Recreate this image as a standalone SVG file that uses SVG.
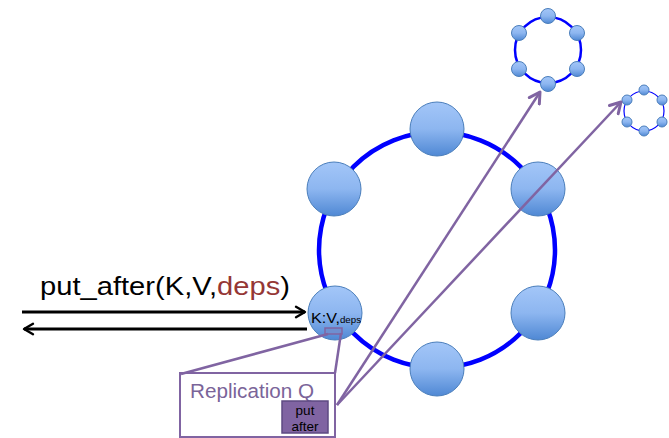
<svg xmlns="http://www.w3.org/2000/svg" width="669" height="438" viewBox="0 0 669 438">
<defs>
<linearGradient id="ng" x1="0" y1="0" x2="0" y2="1">
<stop offset="0" stop-color="#A3C6F8"/>
<stop offset="0.5" stop-color="#8DB6F0"/>
<stop offset="1" stop-color="#4F88D4"/>
</linearGradient>
<marker id="pa" viewBox="0 0 10 10" refX="8" refY="5" markerWidth="6" markerHeight="6" orient="auto" markerUnits="strokeWidth">
<path d="M1,1 L8,5 L1,9" fill="none" stroke="#8064A2" stroke-width="2" stroke-linecap="round" stroke-linejoin="round"/>
</marker>
<marker id="ba" viewBox="0 0 10 10" refX="8" refY="5" markerWidth="5" markerHeight="5" orient="auto" markerUnits="strokeWidth">
<path d="M2,1.5 L8,5 L2,8.5" fill="none" stroke="#000" stroke-width="1.6" stroke-linecap="round" stroke-linejoin="round"/>
</marker>
</defs>
<style>
.node{fill:url(#ng);stroke:#4A7EBB;stroke-width:1}
.ring{fill:none;stroke:#0000FF}
.pl{fill:none;stroke:#8064A2;stroke-width:2.5}
.t{font-family:"Liberation Sans",Arial,sans-serif}
</style>
<g id="big-ring">
<circle class="ring" cx="437" cy="250" r="118" stroke-width="4.5"/>
</g>
<g id="node-top"><circle class="node" cx="437" cy="129" r="27"/></g>
<g id="node-ul"><circle class="node" cx="334" cy="189" r="27"/></g>
<g id="node-ur"><circle class="node" cx="538" cy="189" r="27"/></g>
<g id="node-lr"><circle class="node" cx="538" cy="313" r="27"/></g>
<g id="node-bottom"><circle class="node" cx="437" cy="369" r="27"/></g>
<g id="node-kv">
<circle class="node" cx="335" cy="313" r="27"/>
<text class="t" x="311" y="323" font-size="15" fill="#000" textLength="50" lengthAdjust="spacingAndGlyphs">K:V,<tspan font-size="9">deps</tspan></text>
<rect x="325" y="328" width="17" height="6" fill="#6E8FD0" stroke="#8064A2" stroke-width="1.5"/>
</g>
<g id="ring2">
<circle class="ring" cx="548" cy="50" r="33" stroke-width="2.5"/>
<circle class="node" cx="548" cy="16" r="7.5"/>
<circle class="node" cx="519" cy="33" r="7.5"/>
<circle class="node" cx="577" cy="33" r="7.5"/>
<circle class="node" cx="519" cy="69" r="7.5"/>
<circle class="node" cx="577" cy="69" r="7.5"/>
<circle class="node" cx="548" cy="84" r="7.5"/>
</g>
<g id="ring3">
<circle class="ring" cx="644" cy="111" r="20" stroke-width="1.2"/>
<circle class="node" cx="644" cy="90" r="5"/>
<circle class="node" cx="627" cy="100" r="5"/>
<circle class="node" cx="662" cy="100" r="5"/>
<circle class="node" cx="627" cy="122" r="5"/>
<circle class="node" cx="662" cy="122" r="5"/>
<circle class="node" cx="644" cy="131" r="5"/>
</g>
<g id="replication-q">
<rect x="180" y="373" width="155" height="64" fill="#fff" stroke="#8064A2" stroke-width="2"/>
<text class="t" x="190" y="398" font-size="20" fill="#7A6499" textLength="124" lengthAdjust="spacingAndGlyphs">Replication Q</text>
<rect x="282" y="401" width="46" height="32" fill="#8064A2" stroke="#5E4A82" stroke-width="1.5"/>
<text class="t" x="305" y="415" font-size="13.5" fill="#000" text-anchor="middle">put</text>
<text class="t" x="305" y="431" font-size="13.5" fill="#000" text-anchor="middle">after</text>
</g>
<g id="label">
<text class="t" x="40" y="295" font-size="26" fill="#000" textLength="250" lengthAdjust="spacingAndGlyphs">put_after(K,V,<tspan fill="#953735">deps</tspan>)</text>
</g>
<g id="connectors">
<line x1="22" y1="312" x2="305" y2="312" stroke="#000" stroke-width="3" marker-end="url(#ba)"/>
<line x1="307" y1="329" x2="24" y2="329" stroke="#000" stroke-width="3" marker-end="url(#ba)"/>
<line class="pl" x1="328" y1="334" x2="181" y2="374"/>
<line class="pl" x1="341" y1="333" x2="335" y2="373"/>
<line class="pl" x1="337" y1="405" x2="540" y2="92" marker-end="url(#pa)"/>
<line class="pl" x1="337" y1="405" x2="621" y2="102" marker-end="url(#pa)"/>
</g>
</svg>
